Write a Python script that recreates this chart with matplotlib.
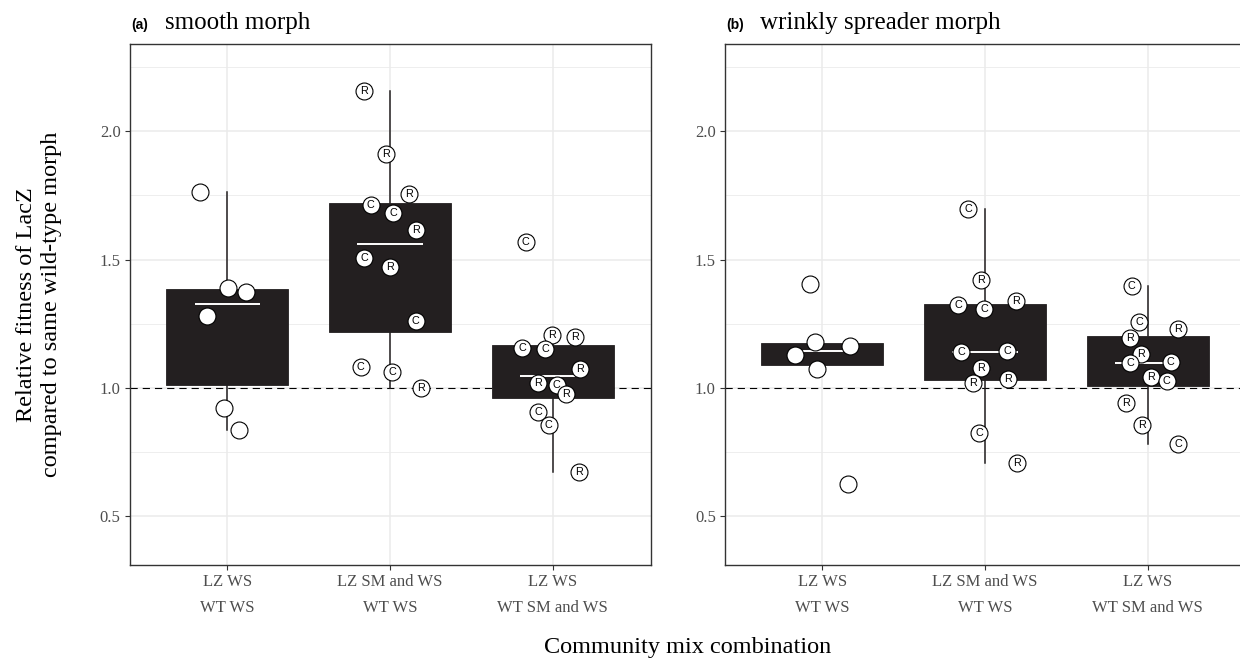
import matplotlib.pyplot as plt
import numpy as np

plt.rcParams['font.family'] = ['Liberation Serif', 'DejaVu Serif']

categories = ['LZ WS\nWT WS', 'LZ SM and WS\nWT WS', 'LZ WS\nWT SM and WS']

# ---- panel (a) smooth morph ----
a1_y = [1.763, 1.390, 1.373, 1.280, 0.920, 0.837]
a1_dx = [-0.166, 0.004, 0.117, -0.125, -0.018, 0.074]
a1_lab = ['', '', '', '', '', '']

a2_y = [2.157, 1.912, 1.754, 1.711, 1.681, 1.617, 1.506, 1.472, 1.262, 1.081, 1.063, 0.999]
a2_dx = [-0.160, -0.025, 0.117, -0.118, 0.020, 0.158, -0.158, 0.000, 0.158, -0.180, 0.012, 0.190]
a2_lab = ['R', 'R', 'R', 'C', 'C', 'R', 'C', 'R', 'C', 'C', 'C', 'R']

a3_y = [1.568, 1.207, 1.197, 1.157, 1.150, 1.073, 1.021, 1.013, 0.977, 0.905, 0.857, 0.673]
a3_dx = [-0.166, -0.002, 0.137, -0.188, -0.047, 0.166, -0.088, 0.023, 0.084, -0.088, -0.026, 0.161]
a3_lab = ['C', 'R', 'R', 'C', 'C', 'R', 'R', 'C', 'R', 'C', 'C', 'R']

# ---- panel (b) wrinkly spreader morph ----
b1_y = [1.406, 1.178, 1.163, 1.128, 1.074, 0.626]
b1_dx = [-0.075, -0.046, 0.171, -0.167, -0.029, 0.156]
b1_lab = ['', '', '', '', '', '']

b2_y = [1.699, 1.419, 1.339, 1.324, 1.309, 1.144, 1.139, 1.078, 1.036, 1.021, 0.825, 0.707]
b2_dx = [-0.102, -0.026, 0.192, -0.164, -0.006, 0.135, -0.145, -0.023, 0.139, -0.072, -0.035, 0.196]
b2_lab = ['C', 'R', 'R', 'C', 'C', 'C', 'C', 'R', 'R', 'R', 'C', 'R']

b3_y = [1.398, 1.258, 1.231, 1.195, 1.133, 1.101, 1.096, 1.042, 1.028, 0.943, 0.856, 0.782]
b3_dx = [-0.098, -0.053, 0.186, -0.112, -0.039, 0.141, -0.110, 0.020, 0.115, -0.131, -0.033, 0.186]
b3_lab = ['C', 'C', 'R', 'R', 'R', 'C', 'C', 'R', 'C', 'R', 'R', 'C']

box_col = '#231f20'
grid_col = '#ebebeb'


def draw_panel(ax, groups, tag, title):
    for i, (ys, dxs, labs) in enumerate(groups, start=1):
        ax.boxplot([ys], positions=[i], widths=0.75, whis=1.5,
                   showfliers=False, showcaps=False, patch_artist=True,
                   boxprops=dict(facecolor=box_col, edgecolor=box_col, linewidth=0.6),
                   whiskerprops=dict(color=box_col, linewidth=1.1),
                   medianprops=dict(visible=False), zorder=2)
        ax.hlines(np.median(ys), i - 0.2, i + 0.2, colors='white', linewidth=1.4, zorder=3)
        xs = i + np.array(dxs)
        ax.plot(xs, ys, 'o', ms=12.2, mfc='white', mec='black', mew=0.8, zorder=4)
        for x, y, s in zip(xs, ys, labs):
            ax.text(x, y, s, ha='center', va='center', fontsize=7.8,
                    family='Liberation Sans', zorder=5)

    ax.axhline(1.0, color='black', linewidth=0.8, dashes=(6.5, 4.5), zorder=1.5)

    ax.set_xlim(0.4, 3.6)
    ax.set_ylim(0.31, 2.34)
    ax.set_xticks([1, 2, 3])
    ax.set_xticklabels(categories, linespacing=1.8)
    ax.set_yticks([0.5, 1.0, 1.5, 2.0])
    ax.set_yticks([0.75, 1.25, 1.75, 2.25], minor=True)
    ax.set_yticklabels(['0.5', '1.0', '1.5', '2.0'])
    ax.grid(which='major', color=grid_col, linewidth=1.1)
    ax.grid(which='minor', axis='y', color=grid_col, linewidth=0.6)
    ax.set_axisbelow(True)
    ax.tick_params(which='major', length=3.8, width=0.8, color='#333333',
                   labelcolor='#4d4d4d', pad=2.5)
    ax.tick_params(which='minor', length=0)
    ax.tick_params(axis='y', labelsize=12)
    ax.tick_params(axis='x', labelsize=12, pad=3)
    for sp in ax.spines.values():
        sp.set_color('#333333')
        sp.set_linewidth(1.0)

    ax.annotate(tag, xy=(0, 1), xycoords='axes fraction', xytext=(1.5, 10.5),
                textcoords='offset points', fontsize=10, fontweight='bold',
                family='Liberation Sans', ha='left', va='baseline')
    ax.annotate(title, xy=(0, 1), xycoords='axes fraction', xytext=(25.5, 10.5),
                textcoords='offset points', fontsize=18, ha='left', va='baseline')


fig = plt.figure(figsize=(12.4, 6.65), dpi=100)
ax_a = fig.add_axes([129.5 / 1240, 100 / 665, 521 / 1240, 521 / 665])
ax_b = fig.add_axes([724.5 / 1240, 100 / 665, 521 / 1240, 521 / 665])

draw_panel(ax_a, [(a1_y, a1_dx, a1_lab), (a2_y, a2_dx, a2_lab), (a3_y, a3_dx, a3_lab)],
           '(a)', 'smooth morph')
draw_panel(ax_b, [(b1_y, b1_dx, b1_lab), (b2_y, b2_dx, b2_lab), (b3_y, b3_dx, b3_lab)],
           '(b)', 'wrinkly spreader morph')

fig.text(39 / 1240, 1 - 304.5 / 665,
         'Relative fitness of LacZ\ncompared to same wild-type morph',
         rotation=90, ha='center', va='center', fontsize=17.5, linespacing=1.22)
fig.text(688 / 1240, 1 - 647 / 665, 'Community mix combination',
         ha='center', va='center', fontsize=17.5)

fig.savefig('out.png', dpi=100)
